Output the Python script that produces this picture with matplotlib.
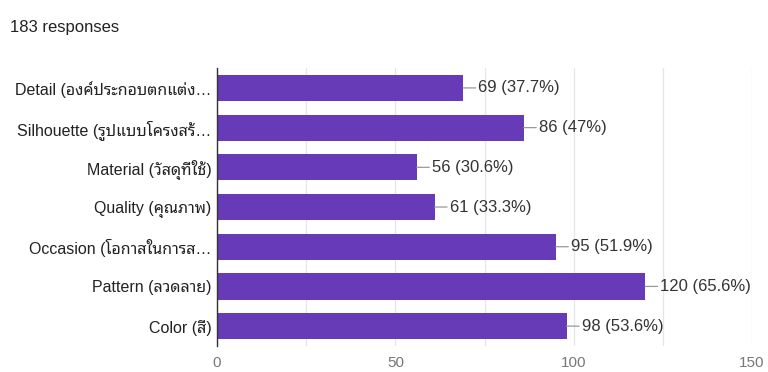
import matplotlib
matplotlib.use('Agg')
import matplotlib.pyplot as plt
from matplotlib.ticker import MultipleLocator

# Thai text needs a family that has the glyphs; Latin falls back to Liberation Sans first
plt.rcParams['font.family'] = ['Liberation Sans', 'Noto Sans Thai Looped', 'DejaVu Sans']

title = '183 responses'
categories = [
    'Detail (องค์ประกอบตกแต่ง…',
    'Silhouette (รูปแบบโครงสร้…',
    'Material (วัสดุที่ใช้)',
    'Quality (คุณภาพ)',
    'Occasion (โอกาสในการส…',
    'Pattern (ลวดลาย)',
    'Color (สี)',
]
counts = [69, 86, 56, 61, 95, 120, 98]
percents = ['37.7%', '47%', '30.6%', '33.3%', '51.9%', '65.6%', '53.6%']
x_ticks = [0, 50, 100, 150]

BAR = '#673ab7'

fig = plt.figure(figsize=(7.68, 3.72), dpi=100)
ax = fig.add_axes([0.2826, 0.070, 0.6966, 0.747])

ypos = list(range(len(categories)))
ax.barh(ypos, counts, height=0.66, color=BAR, zorder=2)

for y, c, p in zip(ypos, counts, percents):
    ax.annotate(f'{c} ({p})', xy=(c, y), xytext=(11, 0), textcoords='offset points',
                ha='left', va='center', fontsize=12, color='#333333',
                arrowprops=dict(arrowstyle='-', color='#999999', lw=0.9,
                                shrinkA=0, shrinkB=0))

ax.set_xlim(0, 150)
ax.set_ylim(len(categories) - 0.5, -0.5)
ax.set_yticks(ypos)
ax.set_yticklabels(categories, fontsize=11.5, color='#222222')
ax.set_xticks(x_ticks)
ax.set_xticklabels([str(t) for t in x_ticks], fontsize=11, color='#777777')
ax.xaxis.set_minor_locator(MultipleLocator(25))
ax.grid(axis='x', which='both', color='#e6e6e6', lw=0.9, zorder=0)
ax.tick_params(axis='both', which='both', length=0)
ax.tick_params(axis='y', pad=4)
ax.tick_params(axis='x', pad=7)
for s in ['top', 'right', 'bottom']:
    ax.spines[s].set_visible(False)
ax.spines['left'].set_color('#333333')
ax.spines['left'].set_linewidth(1.0)
ax.spines['left'].set_zorder(3)

fig.text(0.013, 0.925, title, fontsize=12, color='#222222', ha='left', va='center')

fig.savefig('out.png', dpi=100)
